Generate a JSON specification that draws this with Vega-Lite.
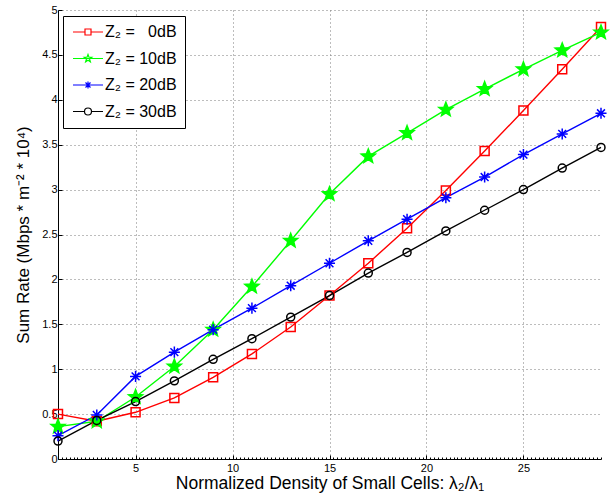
{
  "$schema": "https://vega.github.io/schema/vega-lite/v6.json",
  "width": 543,
  "height": 449,
  "autosize": {"type": "none"},
  "padding": {"left": 58, "top": 10, "right": 9, "bottom": 34},
  "background": "white",
  "config": {
    "font": "Liberation Sans",
    "view": {"stroke": null},
    "axis": {
      "labelFont": "Liberation Sans",
      "labelFontSize": 11,
      "labelColor": "black",
      "titleFont": "Liberation Sans",
      "titleFontWeight": "normal",
      "titleColor": "black",
      "domainColor": "black",
      "domainWidth": 1,
      "tickColor": "black",
      "gridColor": "#7a7a7a",
      "gridDash": [1, 3],
      "gridOpacity": 1,
      "gridWidth": 1
    }
  },
  "resolve": {
    "axis": {"x": "independent"},
    "scale": {"shape": "independent", "color": "independent"}
  },
  "data": {
    "values": [
      {"x": 1, "series": "0dB", "rate": 0.50},
      {"x": 3, "series": "0dB", "rate": 0.42},
      {"x": 5, "series": "0dB", "rate": 0.52},
      {"x": 7, "series": "0dB", "rate": 0.68},
      {"x": 9, "series": "0dB", "rate": 0.91},
      {"x": 11, "series": "0dB", "rate": 1.17},
      {"x": 13, "series": "0dB", "rate": 1.47},
      {"x": 15, "series": "0dB", "rate": 1.82},
      {"x": 17, "series": "0dB", "rate": 2.18},
      {"x": 19, "series": "0dB", "rate": 2.57},
      {"x": 21, "series": "0dB", "rate": 2.99},
      {"x": 23, "series": "0dB", "rate": 3.43},
      {"x": 25, "series": "0dB", "rate": 3.88},
      {"x": 27, "series": "0dB", "rate": 4.34},
      {"x": 29, "series": "0dB", "rate": 4.81},
      {"x": 1, "series": "10dB", "rate": 0.36},
      {"x": 3, "series": "10dB", "rate": 0.42},
      {"x": 5, "series": "10dB", "rate": 0.69},
      {"x": 7, "series": "10dB", "rate": 1.03},
      {"x": 9, "series": "10dB", "rate": 1.44},
      {"x": 11, "series": "10dB", "rate": 1.92},
      {"x": 13, "series": "10dB", "rate": 2.43},
      {"x": 15, "series": "10dB", "rate": 2.95},
      {"x": 17, "series": "10dB", "rate": 3.37},
      {"x": 19, "series": "10dB", "rate": 3.63},
      {"x": 21, "series": "10dB", "rate": 3.89},
      {"x": 23, "series": "10dB", "rate": 4.12},
      {"x": 25, "series": "10dB", "rate": 4.34},
      {"x": 27, "series": "10dB", "rate": 4.55},
      {"x": 29, "series": "10dB", "rate": 4.75},
      {"x": 1, "series": "20dB", "rate": 0.26},
      {"x": 3, "series": "20dB", "rate": 0.49},
      {"x": 5, "series": "20dB", "rate": 0.92},
      {"x": 7, "series": "20dB", "rate": 1.19},
      {"x": 9, "series": "20dB", "rate": 1.44},
      {"x": 11, "series": "20dB", "rate": 1.68},
      {"x": 13, "series": "20dB", "rate": 1.93},
      {"x": 15, "series": "20dB", "rate": 2.18},
      {"x": 17, "series": "20dB", "rate": 2.43},
      {"x": 19, "series": "20dB", "rate": 2.67},
      {"x": 21, "series": "20dB", "rate": 2.91},
      {"x": 23, "series": "20dB", "rate": 3.14},
      {"x": 25, "series": "20dB", "rate": 3.39},
      {"x": 27, "series": "20dB", "rate": 3.62},
      {"x": 29, "series": "20dB", "rate": 3.85},
      {"x": 1, "series": "30dB", "rate": 0.20},
      {"x": 3, "series": "30dB", "rate": 0.43},
      {"x": 5, "series": "30dB", "rate": 0.64},
      {"x": 7, "series": "30dB", "rate": 0.87},
      {"x": 9, "series": "30dB", "rate": 1.11},
      {"x": 11, "series": "30dB", "rate": 1.34},
      {"x": 13, "series": "30dB", "rate": 1.58},
      {"x": 15, "series": "30dB", "rate": 1.82},
      {"x": 17, "series": "30dB", "rate": 2.07},
      {"x": 19, "series": "30dB", "rate": 2.30},
      {"x": 21, "series": "30dB", "rate": 2.54},
      {"x": 23, "series": "30dB", "rate": 2.77},
      {"x": 25, "series": "30dB", "rate": 3.00},
      {"x": 27, "series": "30dB", "rate": 3.24},
      {"x": 29, "series": "30dB", "rate": 3.47}
    ]
  },
  "layer": [
    {
      "mark": {"type": "point", "opacity": 0},
      "encoding": {
        "x": {
          "field": "x",
          "type": "quantitative",
          "scale": {"domain": [1, 29], "nice": false, "zero": false},
          "axis": {
            "orient": "bottom",
            "tickCount": 140,
            "labels": false,
            "domain": false,
            "grid": false,
            "tickSize": -2,
            "title": null
          }
        }
      }
    },
    {
      "mark": {"type": "line", "strokeWidth": 1.4},
      "encoding": {
        "x": {
          "field": "x",
          "type": "quantitative",
          "scale": {"domain": [1, 29], "nice": false, "zero": false},
          "axis": {
            "orient": "bottom",
            "values": [5, 10, 15, 20, 25],
            "grid": true,
            "tickSize": -4,
            "labelPadding": 7,
            "titlePadding": 1,
            "titleFontSize": 17.5,
            "title": "Normalized Density of Small Cells: λ₂/λ₁"
          }
        },
        "y": {
          "field": "rate",
          "type": "quantitative",
          "scale": {"domain": [0, 5], "nice": false},
          "axis": {
            "values": [0, 0.5, 1, 1.5, 2, 2.5, 3, 3.5, 4, 4.5, 5],
            "labelExpr": "'' + datum.value",
            "grid": true,
            "tickSize": -4,
            "labelPadding": 5,
            "titlePadding": 9,
            "titleFontSize": 17,
            "title": "Sum Rate (Mbps * m⁻² * 10⁴)"
          }
        },
        "stroke": {
          "field": "series",
          "type": "nominal",
          "scale": {"range": ["#ff0000", "#00ff00", "#0000ff", "#000000"]},
          "legend": null
        },
        "detail": {"field": "series"}
      }
    },
    {
      "mark": {"type": "point", "filled": false, "strokeWidth": 1.5, "size": 196, "opacity": 1},
      "encoding": {
        "x": {"field": "x", "type": "quantitative", "axis": null},
        "y": {"field": "rate", "type": "quantitative"},
        "stroke": {"field": "series", "type": "nominal", "legend": null},
        "shape": {
          "field": "series",
          "type": "nominal",
          "scale": {
            "range": [
              "M-0.64,-0.64H0.64V0.64H-0.64Z",
              "M0,-1.05L0.265,-0.364L0.999,-0.324L0.428,0.139L0.617,0.849L0,0.45L-0.617,0.849L-0.428,0.139L-0.999,-0.324L-0.265,-0.364Z",
              "M0,-0.79V0.79M-0.79,0H0.79M-0.56,-0.56L0.56,0.56M-0.56,0.56L0.56,-0.56",
              "M-0.57,0A0.57,0.57 0 1,0 0.57,0A0.57,0.57 0 1,0 -0.57,0Z"
            ]
          },
          "legend": null
        },
        "fill": {
          "field": "series",
          "type": "nominal",
          "scale": {"range": ["transparent", "#00ff00", "transparent", "transparent"]},
          "legend": null
        }
      }
    },
    {
      "mark": {"type": "point", "filled": false, "opacity": 0},
      "encoding": {
        "x": {"field": "x", "type": "quantitative", "axis": null},
        "y": {"field": "rate", "type": "quantitative"},
        "color": {
          "field": "series",
          "type": "nominal",
          "scale": {
            "domain": ["0dB", "10dB", "20dB", "30dB"],
            "range": ["#ff0000", "#00ff00", "#0000ff", "#000000"]
          },
          "legend": {
            "orient": "none",
            "legendX": 5,
            "legendY": 6,
            "title": null,
            "padding": 8,
            "strokeColor": "black",
            "fillColor": "white",
            "labelFont": "Liberation Sans",
            "labelFontSize": 16,
            "labelColor": "black",
            "symbolSize": 100,
            "symbolOpacity": 1,
            "symbolStrokeWidth": 1.2,
            "symbolOffset": 9,
            "labelOffset": 9,
            "rowPadding": 10.5,
            "labelExpr": "datum.value === '0dB' ? 'Z₂ = \u00a0\u00a00dB' : 'Z₂ = ' + datum.value"
          }
        },
        "shape": {
          "field": "series",
          "type": "nominal",
          "scale": {
            "domain": ["0dB", "10dB", "20dB", "30dB"],
            "range": [
              "M-3,0H-0.6M0.6,0H3M-0.6,-0.6H0.6V0.6H-0.6Z",
              "M-3,0H3M0,-0.8L0.194,-0.267L0.761,-0.247L0.314,0.102L0.47,0.647L0,0.33L-0.47,0.647L-0.314,0.102L-0.761,-0.247L-0.194,-0.267Z",
              "M-3,0H3M0,-0.7V0.7M-0.5,-0.5L0.5,0.5M-0.5,0.5L0.5,-0.5",
              "M-3,0H-0.7M0.7,0H3M-0.7,0A0.7,0.7 0 1,0 0.7,0A0.7,0.7 0 1,0 -0.7,0Z"
            ]
          },
          "legend": {
            "orient": "none",
            "legendX": 5,
            "legendY": 6,
            "title": null,
            "padding": 8,
            "strokeColor": "black",
            "fillColor": "white",
            "labelFont": "Liberation Sans",
            "labelFontSize": 16,
            "labelColor": "black",
            "symbolSize": 100,
            "symbolOpacity": 1,
            "symbolStrokeWidth": 1.2,
            "symbolOffset": 9,
            "labelOffset": 9,
            "rowPadding": 10.5,
            "labelExpr": "datum.value === '0dB' ? 'Z₂ = \u00a0\u00a00dB' : 'Z₂ = ' + datum.value"
          }
        }
      }
    }
  ]
}
